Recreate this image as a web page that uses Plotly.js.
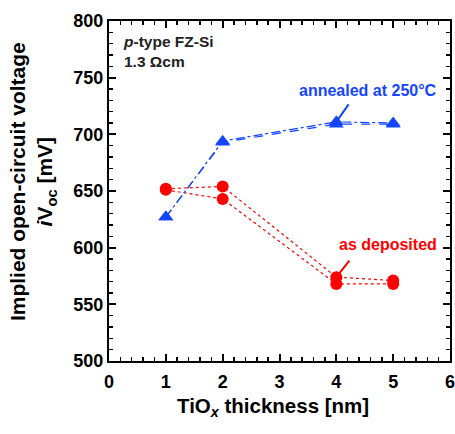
<!DOCTYPE html>
<html>
<head>
<meta charset="utf-8">
<script src="https://cdn.plot.ly/plotly-3.0.1.min.js"></script>
<style>body{margin:0;background:#fff}#chart{width:455px;height:434px}</style>
</head>
<body>
<div id="chart"></div>
<script>
const thickness = [1, 2, 4, 5];
const annealedA = [627, 694, 711, 710];
const annealedB = [627, 693, 709, 709];
const depositedA = [652, 654, 574, 571];
const depositedB = [651, 643, 568, 568];
const xTicks = [0, 1, 2, 3, 4, 5, 6];
const yTicks = [500, 550, 600, 650, 700, 750, 800];

const BLUE = '#1446ff';
const RED = '#ff0000';
const FONT = 'Liberation Sans, Arial, sans-serif';

const traces = [
  {x: thickness, y: depositedA, mode: 'lines+markers', line: {color: RED, width: 1.2, dash: 'dot'},
   marker: {symbol: 'circle', size: 12, color: RED}},
  {x: thickness, y: depositedB, mode: 'lines+markers', line: {color: RED, width: 1.2, dash: 'dot'},
   marker: {symbol: 'circle', size: 12, color: RED}},
  {x: thickness, y: annealedA, mode: 'lines+markers', line: {color: BLUE, width: 1.2, dash: 'dashdot'},
   marker: {symbol: 'triangle-up', size: 13, color: BLUE}},
  {x: thickness, y: annealedB, mode: 'lines+markers', line: {color: BLUE, width: 1.2, dash: 'dash'},
   marker: {symbol: 'triangle-up', size: 13, color: BLUE}}
];

const axisCommon = {
  showgrid: false, zeroline: false, showline: true, linecolor: '#000', linewidth: 2,
  mirror: 'allticks', ticks: 'inside', ticklen: 7, tickwidth: 2, tickcolor: '#000',
  ticklabeloverflow: 'allow',
  tickfont: {family: FONT, size: 18, color: '#000', weight: 'bold'}
};

const layout = {
  width: 455, height: 434,
  margin: {l: 109, r: 5, t: 21, b: 73},
  paper_bgcolor: '#fff', plot_bgcolor: '#fff',
  showlegend: false,
  font: {family: FONT},
  xaxis: Object.assign({}, axisCommon, {
    range: [0, 6], tickvals: xTicks, ticktext: xTicks.map(String),
    ticklabelstandoff: 3,
    minor: {dtick: 0.2, ticks: 'inside', ticklen: 4, tickwidth: 1.5, tickcolor: '#000'}
  }),
  yaxis: Object.assign({}, axisCommon, {
    range: [500, 800], tickvals: yTicks, ticktext: yTicks.map(String),
    minor: {dtick: 10, ticks: 'inside', ticklen: 4, tickwidth: 1.5, tickcolor: '#000'}
  }),
  annotations: [
    {xref: 'paper', yref: 'paper', x: -0.221, y: 0.528, xanchor: 'center', yanchor: 'middle',
     textangle: -90, showarrow: false, align: 'center',
     text: 'Implied open-circuit voltage<br><i>i</i>V<sub>oc</sub> [mV]',
     font: {family: FONT, size: 21, color: '#000', weight: 'bold'}},
    {xref: 'paper', yref: 'paper', x: 0.482, y: -0.135, xanchor: 'center', yanchor: 'middle',
     showarrow: false, text: 'TiO<sub><i>x</i></sub> thickness [nm]',
     font: {family: FONT, size: 20.5, color: '#000', weight: 'bold'}},
    {xref: 'paper', yref: 'paper', x: 0.035, y: 0.91, xanchor: 'left', yanchor: 'middle', align: 'left',
     showarrow: false, text: '<i>p</i>-type FZ-Si<br>1.3 Ωcm',
     font: {family: FONT, size: 15.5, color: '#222', weight: 'bold'}},
    {x: 4.56, y: 738.5, showarrow: false, text: 'annealed at 250°C',
     font: {family: FONT, size: 16, color: BLUE, weight: 'bold'}},
    {x: 4, y: 711, ax: 14, ay: -20, text: '\u00a0', font: {size: 2}, showarrow: true, arrowhead: 0, arrowwidth: 2, arrowcolor: BLUE},
    {x: 4.91, y: 602.5, showarrow: false, text: 'as deposited',
     font: {family: FONT, size: 16, color: RED, weight: 'bold'}},
    {x: 4, y: 574, ax: 15, ay: -19, text: '\u00a0', font: {size: 2}, showarrow: true, arrowhead: 0, arrowwidth: 2, arrowcolor: RED}
  ]
};

Plotly.newPlot('chart', traces, layout, {displayModeBar: false, staticPlot: true});
</script>
</body>
</html>
